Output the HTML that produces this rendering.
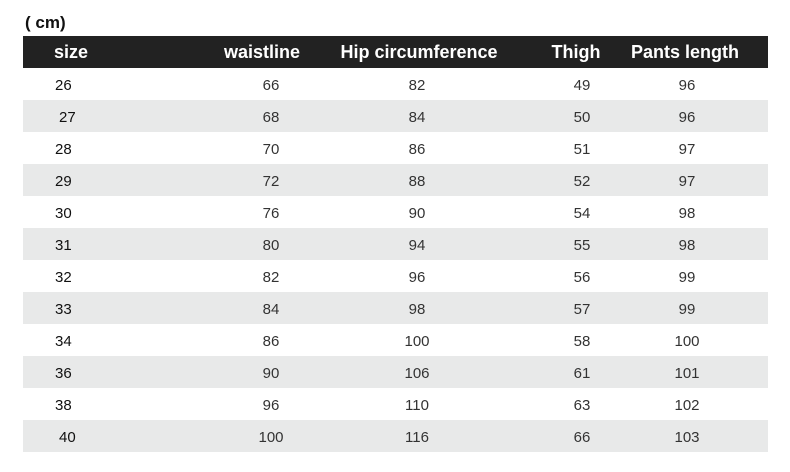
<!DOCTYPE html>
<html><head><style>
body{margin:0;width:790px;height:472px;background:#fff;font-family:"Liberation Sans",sans-serif;position:relative;overflow:hidden}
.u{position:absolute;left:25px;top:13px;font-weight:bold;font-size:17px;color:#111}
.hd{position:absolute;left:23px;top:36px;width:745px;height:32px;background:#222}
.r{position:absolute;left:23px;width:745px;height:32px}
.g{background:#e8e9e9}
.t{position:absolute;top:0;line-height:35px;font-size:15px;color:#333;transform:translateX(-50%);white-space:nowrap}
.h{font-weight:bold;font-size:18px;color:#fff;line-height:33px}
</style></head><body>
<div class="u">( cm)</div>
<div class="hd">
<span class="t h" style="left:48px">size</span>
<span class="t h" style="left:239px">waistline</span>
<span class="t h" style="left:396px">Hip circumference</span>
<span class="t h" style="left:553px">Thigh</span>
<span class="t h" style="left:662px">Pants length</span>
</div>
<div id="rows"></div>
<script>
var d=[[26,66,82,49,96],[27,68,84,50,96],[28,70,86,51,97],[29,72,88,52,97],[30,76,90,54,98],[31,80,94,55,98],[32,82,96,56,99],[33,84,98,57,99],[34,86,100,58,100],[36,90,106,61,101],[38,96,110,63,102],[40,100,116,66,103]];
var xs=[42,248,394,559,664],h='';
d.forEach(function(r,i){h+='<div class="r'+(i%2?' g':'')+'" style="top:'+(68+i*32)+'px">';
r.forEach(function(v,j){h+='<span class="t" style="left:'+(j==0?(i==1||i==11?36:32):xs[j])+'px;'+(j==0?'transform:none;color:#111;':'')+'">'+v+'</span>';});h+='</div>';});
document.getElementById('rows').innerHTML=h;
</script>
</body></html>
